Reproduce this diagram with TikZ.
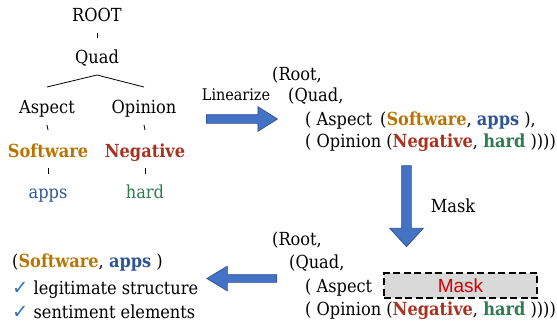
\documentclass[tikz,border=0pt]{standalone}
\usepackage{fontspec}
\setmainfont{DejaVu Serif Condensed}
\newfontfamily\masksans{Liberation Sans}
\newfontfamily\symfont{DejaVu Sans}
\usetikzlibrary{shapes.arrows}
\definecolor{swcol}{HTML}{B97400}
\definecolor{negcol}{HTML}{A8321E}
\definecolor{appcol}{HTML}{2F5597}
\definecolor{hardcol}{HTML}{2E7D50}
\definecolor{arrfill}{HTML}{4472C4}
\definecolor{arrdraw}{HTML}{2F528F}
\definecolor{chkcol}{HTML}{2E75B6}
\definecolor{maskred}{HTML}{D00000}
\definecolor{maskgray}{HTML}{D9D9D9}
\newcommand{\wSoft}{\textcolor{swcol}{\textbf{Software}}}
\newcommand{\wApps}{\textcolor{appcol}{\textbf{apps}}}
\newcommand{\wNeg}{\textcolor{negcol}{\textbf{Negative}}}
\newcommand{\wHard}{\textcolor{hardcol}{\textbf{hard}}}
\newcommand{\chkmark}{{\symfont\fontsize{19.5}{21}\selectfont\textcolor{chkcol}{✓}}}
\begin{document}
\begin{tikzpicture}[x=1pt,y=-1pt,
  txt/.style={inner sep=0pt, font=\fontsize{18}{20}\selectfont},
  lbl/.style={inner sep=0pt, font=\fontsize{16}{18}\selectfont},
  tick/.style={draw=black, line width=0.8pt},
  blockarrow/.style={single arrow, fill=arrfill, draw=arrdraw, line width=0.7pt,
    inner sep=0pt, text depth=0pt, minimum width=0pt, single arrow head indent=0pt},
  maskbox/.style={draw=black, dash pattern=on 7pt off 3.5pt, line width=1.3pt,
    fill=maskgray, inner sep=0pt, minimum width=153pt, minimum height=25pt,
    font=\masksans\fontsize{19}{21}\selectfont, text=maskred}]
\useasboundingbox (0,0) rectangle (557,325);

% tree
\node[txt,anchor=base] (root) at (97,21) {ROOT};
\node[txt,anchor=base] (quad) at (97,63) {Quad};
\node[txt,anchor=base] (aspect) at (47,113) {Aspect};
\node[txt,anchor=base] (opinion) at (144,113) {Opinion};
\node[txt,anchor=base] (swt) at (48,157) {\wSoft};
\node[txt,anchor=base] (negt) at (145,157) {\wNeg};
\node[txt,anchor=base,text=appcol] (appst) at (48,198) {apps};
\node[txt,anchor=base,text=hardcol] (hardt) at (145,198) {hard};

\draw[tick] ([yshift=-12pt]root.base) -- ([yshift=25pt]quad.base);
\draw[tick] ([yshift=-12pt]quad.base) -- ([yshift=26pt]aspect.base);
\draw[tick] ([yshift=-12pt]quad.base) -- ([yshift=26pt]opinion.base);
\draw[tick] ([yshift=-12pt]aspect.base) -- ([yshift=27pt]swt.base);
\draw[tick] ([yshift=-12pt]opinion.base) -- ([yshift=27pt]negt.base);
\draw[tick] ([yshift=-11pt]swt.base) -- ([yshift=24pt]appst.base);
\draw[tick] ([yshift=-11pt]negt.base) -- ([yshift=24pt]hardt.base);

% linearize step
\node[blockarrow, text height=8pt, minimum height=71pt,
  single arrow head extend=8pt, single arrow tip angle=64.6] (linarrow) at (238.5,119) {};
\node[lbl,anchor=base] (linlbl) at (236,100) {Linearize};

% linearized sequence
\node[txt,anchor=base west] (a1) at (272,80) {(Root,};
\node[txt,anchor=base west] (a2) at (288,101) {(Quad,};
\node[txt,anchor=base west] (a3) at (305,125) {( Aspect\hspace{8pt}(\wSoft, \wApps~),};
\node[txt,anchor=base west] (a4) at (305,147) {( Opinion (\wNeg, \wHard~))))};

% mask step
\node[blockarrow, text height=9pt, minimum height=81pt, rotate=-90,
  single arrow head extend=12pt, single arrow tip angle=85] (maskarrow) at (406.5,203.5) {};
\node[txt,anchor=base] (masklbl) at (453,212) {Mask};

% masked sequence
\node[txt,anchor=base west] (b1) at (272,245) {(Root,};
\node[txt,anchor=base west] (b2) at (289,268) {(Quad,};
\node[txt,anchor=base west] (b3) at (305,292) {( Aspect};
\node[maskbox] (mbox) at (460.5,285.5) {Mask};
\node[txt,anchor=base west] (b4) at (305,315) {( Opinion (\wNeg, \wHard~))))};

% recovery step
\node[blockarrow, text height=7pt, minimum height=70pt, rotate=180,
  single arrow head extend=8.5pt, single arrow tip angle=62] (recarrow) at (245,278.5) {};

% recovered elements
\node[txt,anchor=base west] (c1) at (12,267) {(\wSoft, \wApps~)};
\node[txt,anchor=base west] (c2) at (12,294) {\chkmark\ legitimate structure};
\node[txt,anchor=base west] (c3) at (12,318) {\chkmark\ sentiment elements};
\end{tikzpicture}
\end{document}
